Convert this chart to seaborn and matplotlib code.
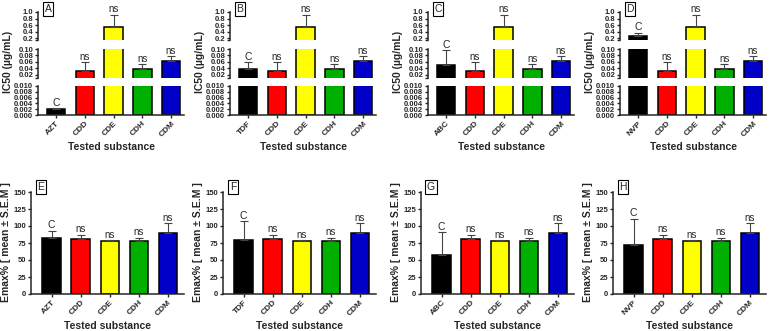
import matplotlib
matplotlib.use("Agg")
import matplotlib.pyplot as plt
import seaborn as sns
import pandas as pd
import numpy as np

# data
controls = ["AZT", "TDF", "ABC", "NVP"]
substances = ["CDD", "CDE", "CDH", "CDM"]
panels_top = ["A", "B", "C", "D"]
panels_bottom = ["E", "F", "G", "H"]

ic50_control = [0.0019, 0.038, 0.051, 0.25]
ic50_control_sem = [0.0004, 0.021, 0.045, 0.11]
ic50_subst = [0.031, 0.54, 0.038, 0.062]
ic50_subst_sem = [0.028, 0.38, 0.015, 0.015]

emax_control = [83, 80, 58, 72]
emax_control_sem = [10, 27, 33, 39]
emax_subst = [81, 78, 77.5, 90]
emax_subst_sem = [6, 1.5, 5, 14]

bar_colors = ["#000000", "#ff0000", "#ffff00", "#00b000", "#0000c8"]

sns.set_style("ticks")
plt.rcParams["font.family"] = ["Liberation Sans", "DejaVu Sans"]
plt.rcParams["font.weight"] = "bold"
plt.rcParams["axes.linewidth"] = 1.1

W, H = 780, 331
fig = plt.figure(figsize=(7.8, 3.31), dpi=100)


def rect(l, t, r, b):
    return [l / W, 1 - b / H, (r - l) / W, (b - t) / H]


def draw_bars(ax, names, vals, sems):
    df = pd.DataFrame({"substance": names, "value": vals})
    sns.barplot(data=df, x="substance", y="value", hue="substance",
                order=names, hue_order=names, palette=bar_colors,
                saturation=1, legend=False, errorbar=None, width=0.64,
                edgecolor="black", linewidth=1.1, ax=ax)
    ax.errorbar(np.arange(len(names)), vals,
                yerr=[np.zeros(len(vals)), sems], fmt="none",
                ecolor="#444444", elinewidth=0.8, capsize=3, capthick=0.8)
    ax.set_xlabel("")
    ax.set_ylabel("")


def mark(ax, i, top, text):
    ax.annotate(text, (i, top), xytext=(0, 0.3), textcoords="offset points",
                ha="center", va="bottom", fontsize=7 if text == "ns" else 7.5,
                fontweight="normal", annotation_clip=False)


def rotate_labels(ax):
    for lab in ax.get_xticklabels():
        lab.set_rotation(45)
        lab.set_ha("right")
        lab.set_rotation_mode("anchor")


# top row: IC50 with broken y axis
seg_px = [(12, 40), (49, 78), (86, 115)]
seg_lims = [(0.14, 1.0), (0.01, 0.10), (0.0, 0.010)]
seg_ticks = [[0.2, 0.4, 0.6, 0.8, 1.0],
             [0.02, 0.04, 0.06, 0.08, 0.10],
             [0.0, 0.002, 0.004, 0.006, 0.008, 0.010]]
seg_fmt = ["{:.1f}", "{:.2f}", "{:.3f}"]
top_left = [38, 230, 428, 620]
top_width = 146

for k in range(4):
    names = [controls[k]] + substances
    vals = [ic50_control[k]] + ic50_subst
    sems = [ic50_control_sem[k]] + ic50_subst_sem
    l = top_left[k]
    axes = []
    for s in range(3):
        t, b = seg_px[s]
        ax = fig.add_axes(rect(l, t, l + top_width, b))
        draw_bars(ax, names, vals, sems)
        ax.set_xlim(-0.63, 4.45)
        ax.set_ylim(*seg_lims[s])
        ax.set_yticks(seg_ticks[s])
        ax.set_yticklabels([seg_fmt[s].format(v) for v in seg_ticks[s]])
        ax.tick_params(axis="y", labelsize=5.5, length=2.5, width=1, pad=1)
        if s < 2:
            sns.despine(ax=ax, bottom=True)
            ax.set_xticks([])
            ax.set_yticks([seg_lims[s][0]], minor=True)
            ax.tick_params(axis="y", which="minor", length=2.5, width=1)
        else:
            sns.despine(ax=ax)
            ax.tick_params(axis="x", labelsize=6, length=2.5, width=1, pad=1)
            rotate_labels(ax)
        axes.append(ax)
    for i, (v, e) in enumerate(zip(vals, sems)):
        top = v + e
        for s in range(3):
            lo, hi = seg_lims[s]
            if lo <= top <= hi * 1.02:
                mark(axes[s], i, top, "C" if i == 0 else "ns")
                break
    fig.text((l - 30) / W, 1 - 62 / H, "IC50 (µg/mL)", rotation=90,
             ha="center", va="center", fontsize=7.5)
    fig.text((l + top_width / 2) / W, 1 - 147 / H, "Tested substance",
             ha="center", va="center", fontsize=7.5)
    fig.text((l + 10) / W, 1 - 9 / H, panels_top[k], ha="center", va="center",
             fontsize=7.5, fontweight="normal",
             bbox=dict(boxstyle="square,pad=0.15", fc="white", ec="black", lw=0.8))

# bottom row: Emax
bottom_left = [31, 223, 421, 613]
bottom_width = 153

for k in range(4):
    names = [controls[k]] + substances
    vals = [emax_control[k]] + emax_subst
    sems = [emax_control_sem[k]] + emax_subst_sem
    l = bottom_left[k]
    ax = fig.add_axes(rect(l, 192, l + bottom_width, 294))
    draw_bars(ax, names, vals, sems)
    sns.despine(ax=ax)
    ax.set_xlim(-0.71, 4.55)
    ax.set_ylim(0, 150)
    ax.set_yticks([0, 25, 50, 75, 100, 125, 150])
    ax.tick_params(axis="y", labelsize=5.5, length=2.5, width=1, pad=1)
    ax.tick_params(axis="x", labelsize=6, length=2.5, width=1, pad=1)
    rotate_labels(ax)
    for i, (v, e) in enumerate(zip(vals, sems)):
        mark(ax, i, v + e, "C" if i == 0 else "ns")
    fig.text((l - 25) / W, 1 - 242 / H, "Emax% [ mean ± S.E.M ]", rotation=90,
             ha="center", va="center", fontsize=7.5)
    fig.text((l + bottom_width / 2) / W, 1 - 326 / H, "Tested substance",
             ha="center", va="center", fontsize=7.5)
    fig.text((l + 10) / W, 1 - 187 / H, panels_bottom[k], ha="center",
             va="center", fontsize=7.5, fontweight="normal",
             bbox=dict(boxstyle="square,pad=0.15", fc="white", ec="black", lw=0.8))

fig.savefig("out.png", dpi=100)
